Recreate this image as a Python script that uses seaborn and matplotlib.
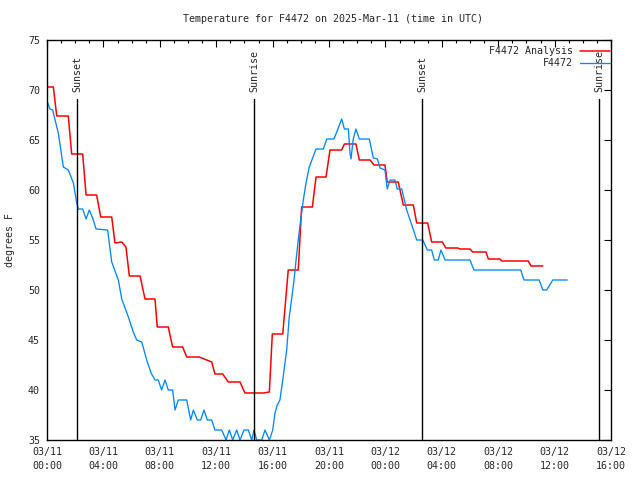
import pandas as pd
import matplotlib
matplotlib.use("Agg")
import matplotlib.pyplot as plt
import matplotlib.dates as mdates
import matplotlib.transforms as mtransforms
import seaborn as sns

# Hours since 2025-03-11 00:00 UTC, temperatures in degrees F
analysis_hours = [0.0, 0.45, 0.69, 1.51, 1.75, 2.53, 2.77, 3.52, 3.81, 4.59,
                  4.82, 5.30, 5.60, 5.84, 6.60, 6.95, 7.66, 7.82, 8.60, 8.91,
                  9.62, 9.91, 10.80, 11.68, 11.91, 12.46, 12.86, 13.69, 14.04, 15.34,
                  15.77, 15.98, 16.72, 17.11, 17.82, 18.06, 18.82, 19.08, 19.79, 20.07,
                  20.90, 21.09, 21.91, 22.15, 22.91, 23.19, 23.97, 24.13, 24.91, 25.27,
                  25.98, 26.22, 27.00, 27.28, 28.04, 28.28, 29.13, 29.29, 30.00, 30.19,
                  31.13, 31.30, 32.13, 32.25, 34.13, 34.33, 35.16]
analysis_temps = [70.3, 70.3, 67.4, 67.4, 63.6, 63.6, 59.5, 59.5, 57.3, 57.3,
                  54.7, 54.8, 54.3, 51.4, 51.4, 49.1, 49.1, 46.3, 46.3, 44.3,
                  44.3, 43.3, 43.3, 42.8, 41.6, 41.6, 40.8, 40.8, 39.7, 39.7,
                  39.8, 45.6, 45.6, 52.0, 52.0, 58.3, 58.3, 61.3, 61.3, 64.0,
                  64.0, 64.6, 64.6, 63.0, 63.0, 62.5, 62.5, 60.8, 60.8, 58.5,
                  58.5, 56.7, 56.7, 54.8, 54.8, 54.2, 54.2, 54.1, 54.1, 53.8,
                  53.8, 53.1, 53.1, 52.9, 52.9, 52.4, 52.4]

obs_hours = [0.0, 0.21, 0.40, 0.80, 1.16, 1.51, 1.87, 2.11, 2.22, 2.53,
             2.77, 3.00, 3.24, 3.48, 4.30, 4.47, 4.59, 4.82, 5.06, 5.30,
             5.77, 6.12, 6.36, 6.72, 7.07, 7.38, 7.66, 7.89, 8.13, 8.37,
             8.60, 8.91, 9.08, 9.31, 9.91, 10.19, 10.38, 10.66, 10.90, 11.13,
             11.37, 11.68, 11.91, 12.39, 12.70, 12.93, 13.17, 13.45, 13.69, 13.97,
             14.28, 14.52, 14.68, 14.87, 15.23, 15.46, 15.77, 16.01, 16.17, 16.33,
             16.52, 16.72, 17.00, 17.18, 17.35, 17.52, 17.71, 17.82, 17.99, 18.18,
             18.37, 18.60, 18.84, 19.08, 19.60, 19.84, 20.35, 20.55, 20.90, 21.09,
             21.37, 21.49, 21.56, 21.72, 21.91, 22.15, 22.86, 23.14, 23.43, 23.62,
             23.97, 24.13, 24.33, 24.68, 24.84, 25.16, 25.51, 25.87, 26.22, 26.65,
             26.97, 27.28, 27.47, 27.75, 27.94, 28.23, 30.00, 30.28, 33.60, 33.83,
             34.91, 35.16, 35.44, 35.87, 36.90]
obs_temps = [68.9, 68.1, 68.0, 65.7, 62.3, 62.0, 60.7, 58.7, 58.1, 58.1,
             57.1, 58.0, 57.2, 56.1, 56.0, 54.1, 52.8, 51.9, 51.0, 49.1,
             47.3, 45.8, 45.0, 44.8, 43.0, 41.7, 41.0, 41.0, 40.0, 41.0,
             40.0, 40.0, 38.0, 39.0, 39.0, 37.0, 38.0, 37.0, 37.0, 38.0,
             37.0, 37.0, 36.0, 36.0, 35.0, 36.0, 35.0, 36.0, 35.0, 36.0,
             36.0, 35.0, 36.0, 35.0, 35.0, 36.0, 35.0, 36.0, 37.7, 38.5,
             39.0, 41.0, 44.0, 47.3, 49.1, 51.0, 53.6, 55.0, 57.0, 59.0,
             60.7, 62.3, 63.2, 64.1, 64.1, 65.1, 65.1, 65.8, 67.1, 66.1,
             66.1, 63.7, 63.1, 65.1, 66.1, 65.1, 65.1, 63.2, 63.1, 62.2,
             62.0, 60.1, 61.0, 61.0, 60.1, 60.1, 58.0, 56.5, 55.0, 55.0,
             54.0, 54.0, 53.0, 53.0, 54.0, 53.0, 53.0, 52.0, 52.0, 51.0,
             51.0, 50.0, 50.0, 51.0, 51.0]

event_hours = [2.15, 14.70, 26.62, 39.17]
event_labels = ["Sunset", "Sunrise", "Sunset", "Sunrise"]

start = pd.Timestamp("2025-03-11 00:00")


def to_time(hours):
    return start + pd.to_timedelta(hours, unit="h")


analysis = pd.DataFrame({"time": to_time(analysis_hours), "temp": analysis_temps})
obs = pd.DataFrame({"time": to_time(obs_hours), "temp": obs_temps})

sns.set_style("white")
plt.rcParams["font.family"] = ["DejaVu Sans Mono"]
plt.rcParams["font.size"] = 7.2

fig, ax = plt.subplots(figsize=(6.4, 4.8), dpi=100)
fig.subplots_adjust(left=47 / 640, right=611 / 640, top=1 - 40 / 480, bottom=1 - 440 / 480)

sns.lineplot(data=analysis, x="time", y="temp", color="#ff0000", linewidth=1.1,
             label="F4472 Analysis", ax=ax)
sns.lineplot(data=obs, x="time", y="temp", color="#0088ff", linewidth=0.95,
             label="F4472", ax=ax)

# sunrise / sunset markers
trans = mtransforms.blended_transform_factory(ax.transData, ax.transAxes)
for h, lab in zip(event_hours, event_labels):
    t = to_time(h)
    ax.axvline(t, ymin=0, ymax=0.852, color="black", linewidth=1.0)
    ax.text(t, 0.87, lab, transform=trans, rotation=90, ha="center", va="bottom",
            fontsize=7.2)

ax.set_xlim(start, start + pd.Timedelta(hours=40))
ax.set_ylim(35, 75)
ax.set_yticks(range(35, 80, 5))
ax.xaxis.set_major_locator(mdates.HourLocator(byhour=range(0, 24, 4)))
ax.xaxis.set_minor_locator(mdates.HourLocator())
ax.xaxis.set_major_formatter(mdates.DateFormatter("%m/%d\n%H:%M"))

ax.tick_params(which="both", direction="in", top=True, right=True, color="black",
               labelsize=7.2)
ax.tick_params(which="major", length=5, width=0.8)
ax.tick_params(which="minor", length=2.5, width=0.8)
ax.tick_params(axis="x", pad=5)
ax.tick_params(axis="y", pad=5)
for tick in ax.xaxis.get_major_ticks():
    tick.label1.set_linespacing(1.55)

for spine in ax.spines.values():
    spine.set_color("black")
    spine.set_linewidth(1.0)

ax.set_xlabel("")
ax.set_ylabel("")
fig.text(10 / 640, 0.5, "degrees F", rotation=90, ha="center", va="center", fontsize=7.2)
fig.text(333 / 640, 1 - 19 / 480, "Temperature for F4472 on 2025-Mar-11 (time in UTC)",
         ha="center", va="center", fontsize=7.2)

ax.legend(loc="upper right", bbox_to_anchor=(1 + 5 / 564, 1.0), markerfirst=False,
          frameon=False, borderaxespad=0.0, borderpad=0.6, handlelength=3.0,
          handletextpad=0.7, labelspacing=0.22, fontsize=7.2)

fig.savefig("out.png", dpi=100)
